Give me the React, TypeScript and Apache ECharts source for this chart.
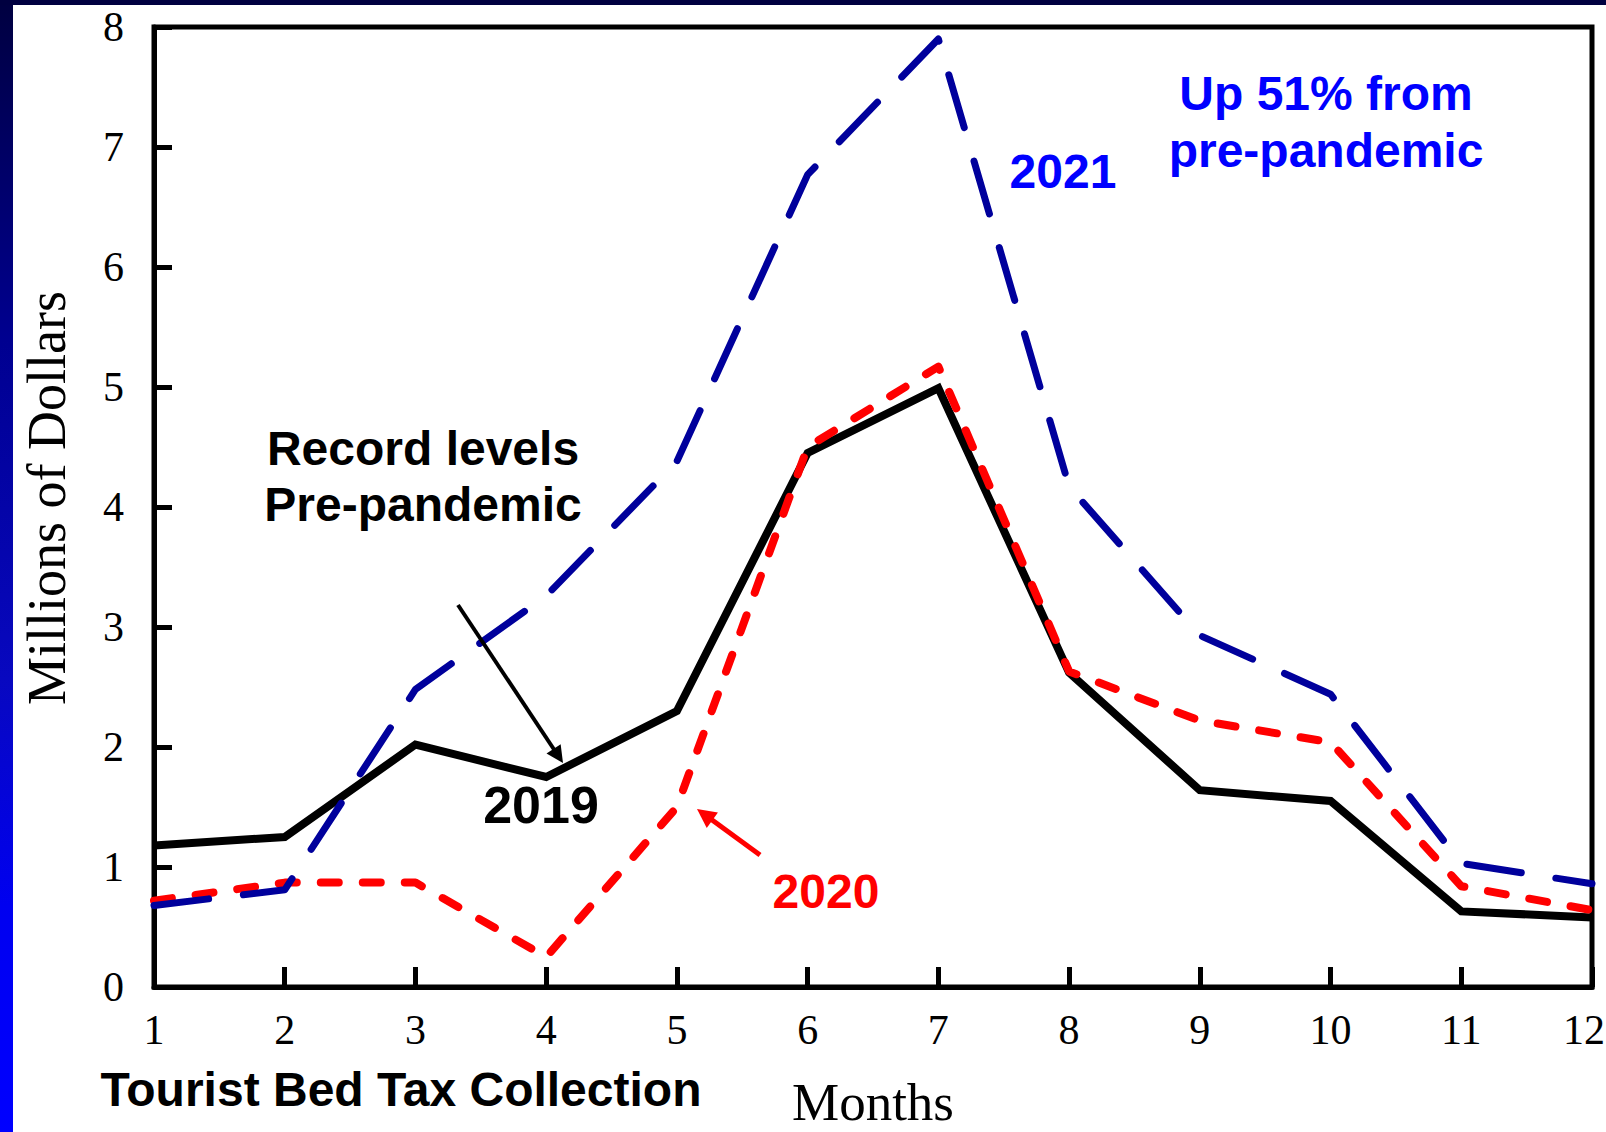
import React, { useEffect, useRef } from 'react';
import * as echarts from 'echarts';

const months = ['1', '2', '3', '4', '5', '6', '7', '8', '9', '10', '11', '12'];
const values2019 = [1.18, 1.25, 2.02, 1.75, 2.3, 4.45, 4.99, 2.62, 1.64, 1.55, 0.63, 0.58];
const values2020 = [0.72, 0.87, 0.87, 0.25, 1.5, 4.5, 5.17, 2.63, 2.22, 2.04, 0.84, 0.64];
const values2021 = [0.68, 0.81, 2.48, 3.26, 4.38, 6.77, 7.9, 4.17, 2.93, 2.44, 1.03, 0.86];
const yMin = 0;
const yMax = 8;
const yStep = 1;

const SERIF = '"Liberation Serif", "Times New Roman", serif';
const SANS = '"Liberation Sans", Arial, sans-serif';

function arrow(x1: number, y1: number, x2: number, y2: number, len: number, hw: number, width: number, color: string) {
  const dx = x2 - x1;
  const dy = y2 - y1;
  const d = Math.sqrt(dx * dx + dy * dy);
  const ux = dx / d;
  const uy = dy / d;
  const bx = x2 - ux * len;
  const by = y2 - uy * len;
  const px = -uy * hw;
  const py = ux * hw;
  return [
    { type: 'line', shape: { x1, y1, x2: bx + ux * 2, y2: by + uy * 2 }, style: { stroke: color, lineWidth: width }, z: 10 },
    {
      type: 'polygon',
      shape: { points: [[x2, y2], [bx + px, by + py], [bx - px, by - py]] },
      style: { fill: color },
      z: 10,
    },
  ];
}

function boldText(text: string, x: number, y: number, color: string, size = 48, lineHeight = 56) {
  return {
    type: 'text',
    x,
    y,
    z: 10,
    style: {
      text,
      fill: color,
      fontFamily: SANS,
      fontWeight: 'bold',
      fontSize: size,
      lineHeight,
      align: 'center',
      verticalAlign: 'middle',
    },
  };
}

export default function App() {
  const ref = useRef<HTMLDivElement>(null);
  useEffect(() => {
    if (!ref.current) return;
    const chart = echarts.init(ref.current, undefined, { renderer: 'svg' });
    const lastMonth = months[months.length - 1];
    chart.setOption({
      animation: false,
      backgroundColor: '#ffffff',
      grid: {
        left: 154,
        right: 14,
        top: 27,
        bottom: 145,
        show: true,
        borderColor: '#000',
        borderWidth: 5,
        containLabel: false,
        outerBoundsMode: 'none',
      },
      xAxis: {
        type: 'category',
        data: months,
        boundaryGap: false,
        axisLine: { show: true, lineStyle: { color: '#000', width: 5 } },
        axisTick: { show: true, inside: true, length: 20, interval: 0, lineStyle: { color: '#000', width: 5 } },
        axisLabel: {
          interval: 0,
          color: '#000',
          fontFamily: SERIF,
          fontSize: 42,
          margin: 22,
          hideOverlap: false,
          formatter: (v: string) => (v === lastMonth ? '{e|' + v + '}' : v),
          rich: {
            e: { color: '#000', fontFamily: SERIF, fontSize: 42, padding: [0, 16, 0, 0] },
          },
        },
        splitLine: { show: false },
        name: 'Months',
        nameLocation: 'middle',
        nameGap: 88,
        nameTextStyle: { color: '#000', fontFamily: SERIF, fontSize: 53 },
      },
      yAxis: {
        type: 'value',
        min: yMin,
        max: yMax,
        interval: yStep,
        axisLine: { show: true, lineStyle: { color: '#000', width: 5 } },
        axisTick: { show: true, inside: true, length: 18, lineStyle: { color: '#000', width: 5 } },
        axisLabel: { color: '#000', fontFamily: SERIF, fontSize: 42, margin: 30 },
        splitLine: { show: false },
        name: 'Millions of Dollars',
        nameLocation: 'middle',
        nameGap: 80,
        nameRotate: 90,
        nameTextStyle: { color: '#000', fontFamily: SERIF, fontSize: 54, padding: [0, 0, 0, 18] },
      },
      series: [
        {
          name: '2019',
          type: 'line',
          data: values2019,
          symbol: 'none',
          lineStyle: { color: '#000000', width: 8, join: 'miter' },
          z: 2,
        },
        {
          name: '2020',
          type: 'line',
          data: values2020,
          symbol: 'none',
          lineStyle: { color: '#ff0000', width: 8, type: [18, 24], cap: 'round', join: 'round' },
          z: 3,
        },
        {
          name: '2021',
          type: 'line',
          data: values2021,
          symbol: 'none',
          lineStyle: { color: '#00009c', width: 7, type: [55, 35], cap: 'round', join: 'round' },
          z: 4,
        },
      ],
      graphic: [
        {
          type: 'rect',
          shape: { x: 0, y: 0, width: 13, height: 1132 },
          style: {
            fill: new echarts.graphic.LinearGradient(0, 0, 0, 1, [
              { offset: 0, color: '#000040' },
              { offset: 0.3, color: '#000090' },
              { offset: 0.6, color: '#0808c0' },
              { offset: 0.8, color: '#0000f0' },
              { offset: 1, color: '#0000ff' },
            ]),
          },
          z: 0,
        },
        { type: 'rect', shape: { x: 0, y: 0, width: 1606, height: 5 }, style: { fill: '#000040' }, z: 0 },
        boldText('Up 51% from\npre-pandemic', 1326, 122, '#0000ff', 48, 57),
        boldText('2021', 1063, 171, '#0000ff', 48),
        boldText('Record levels\nPre-pandemic', 423, 476, '#000000', 48, 56),
        boldText('2019', 541, 805, '#000000', 52),
        boldText('2020', 826, 891, '#ff0000', 48),
        boldText('Tourist Bed Tax Collection', 401, 1089, '#000000', 48),
        ...arrow(458, 605, 563, 763, 17, 8.5, 4, '#000000'),
        ...arrow(760, 855, 697, 809, 19, 9.5, 5, '#ff0000'),
      ],
    });
    return () => chart.dispose();
  }, []);
  return <div ref={ref} style={{ position: 'absolute', left: 0, top: 0, width: 1606, height: 1132 }} />;
}
